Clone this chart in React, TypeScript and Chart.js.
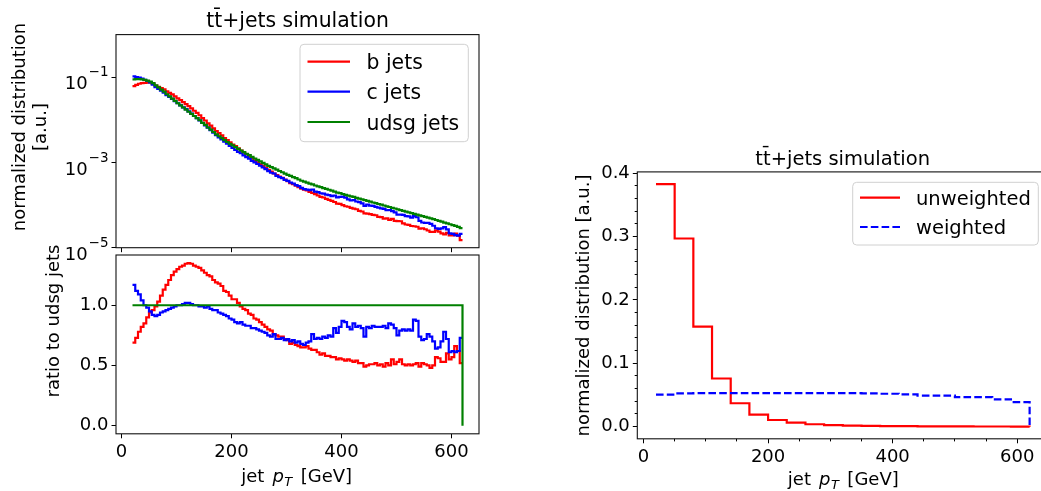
import React, { useEffect, useRef } from 'react';
import { Chart, registerables } from 'chart.js';

Chart.register(...registerables);

const FONT = '"DejaVu Sans", "Liberation Sans", sans-serif';
const RED = '#ff0000';
const BLUE = '#0000ff';
const GREEN = '#008000';
const LINE_WIDTH = 2.2;

// Flavour comparison binning: 5 GeV bins from 20 to 620 GeV
const FINE_LOW = 20;
const FINE_WIDTH = 5;
// Reweighting panel binning: 30 GeV bins from 20 to 620 GeV
const COARSE_LOW = 20;
const COARSE_WIDTH = 30;

// Normalized jet pT distribution of udsg jets (fraction per bin)
const udsgJets = [
  0.0891, 0.0902, 0.0902, 0.0891, 0.0871, 0.0832, 0.0794, 0.0724, 0.0646, 0.0575,
  0.0513, 0.0457, 0.0398, 0.0355, 0.0316, 0.0279, 0.0245, 0.0219, 0.0195, 0.0174,
  0.0155, 0.0138, 0.0123, 0.011, 0.00977, 0.00851, 0.00759, 0.00661, 0.00589, 0.00519,
  0.00457, 0.00412, 0.00372, 0.00335, 0.00302, 0.00275, 0.00251, 0.00229, 0.00209, 0.00191,
  0.00174, 0.0016, 0.00148, 0.00135, 0.00124, 0.00115, 0.00106, 0.000977, 0.000902, 0.000832,
  0.000776, 0.000724, 0.000676, 0.000631, 0.000589, 0.00055, 0.000513, 0.000484, 0.000452, 0.000427,
  0.000398, 0.000372, 0.000355, 0.000335, 0.00032, 0.000305, 0.000288, 0.000275, 0.000263, 0.000251,
  0.00024, 0.000229, 0.000219, 0.000207, 0.000197, 0.000191, 0.000182, 0.000174, 0.000166, 0.00016,
  0.000155, 0.000148, 0.000141, 0.000136, 0.00013, 0.000126, 0.00012, 0.000115, 0.000111, 0.000106,
  0.000102, 9.77e-5, 9.33e-5, 9.02e-5, 8.61e-5, 8.32e-5, 7.94e-5, 7.59e-5, 7.33e-5, 7.0e-5,
  6.76e-5, 6.46e-5, 6.24e-5, 5.96e-5, 5.75e-5, 5.5e-5, 5.31e-5, 5.07e-5, 4.9e-5, 4.68e-5,
  4.47e-5, 4.27e-5, 4.07e-5, 3.89e-5, 3.72e-5, 3.55e-5, 3.39e-5, 3.24e-5, 3.09e-5, 2.88e-5,
];

// b jets relative to udsg jets, per bin
const bOverUdsg = [
  0.69, 0.73, 0.78, 0.82, 0.85, 0.9, 0.94, 0.96, 0.99, 1.03,
  1.08, 1.13, 1.17, 1.21, 1.25, 1.28, 1.3, 1.32, 1.33, 1.345,
  1.35, 1.345, 1.33, 1.32, 1.31, 1.29, 1.27, 1.25, 1.24, 1.21,
  1.19, 1.18, 1.16, 1.12, 1.11, 1.08, 1.05, 1.05, 1.02, 0.99,
  0.97, 0.96, 0.93, 0.92, 0.89, 0.88, 0.86, 0.84, 0.82, 0.8,
  0.79, 0.76, 0.75, 0.74, 0.74, 0.72, 0.71, 0.68, 0.69, 0.67,
  0.66, 0.65, 0.65, 0.66, 0.64, 0.63, 0.63, 0.61, 0.59, 0.6,
  0.58, 0.58, 0.57, 0.57, 0.55, 0.56, 0.55, 0.54, 0.55, 0.54,
  0.53, 0.54, 0.52, 0.52, 0.49, 0.5, 0.51, 0.51, 0.52, 0.5,
  0.51, 0.49, 0.52, 0.5, 0.55, 0.51, 0.53, 0.55, 0.51, 0.5,
  0.51, 0.5, 0.51, 0.52, 0.49, 0.52, 0.51, 0.5, 0.48, 0.5,
  0.57, 0.56, 0.53, 0.53, 0.6, 0.55, 0.57, 0.66, 0.62, 0.52,
];

// c jets relative to udsg jets, per bin
const cOverUdsg = [
  1.17, 1.12, 1.09, 1.04, 1.0, 0.98, 0.95, 0.92, 0.91, 0.92,
  0.94, 0.95, 0.96, 0.97, 0.98, 0.99, 1.0, 1.0, 1.01, 1.02,
  1.02, 1.01, 1.0, 1.0, 0.99, 0.99, 0.98, 0.99, 0.97, 0.96,
  0.96, 0.94, 0.93, 0.92, 0.91, 0.89, 0.88, 0.86, 0.85, 0.86,
  0.84, 0.83, 0.83, 0.81, 0.81, 0.8, 0.79, 0.78, 0.77, 0.75,
  0.74, 0.76, 0.72, 0.72, 0.73, 0.71, 0.72, 0.7, 0.71, 0.69,
  0.7, 0.68, 0.67, 0.69, 0.7, 0.76, 0.72, 0.73, 0.72, 0.74,
  0.73, 0.75, 0.74, 0.81, 0.77, 0.82, 0.87, 0.86, 0.82, 0.8,
  0.85, 0.82, 0.83, 0.81, 0.74, 0.82, 0.81, 0.83, 0.82, 0.82,
  0.82, 0.83, 0.81, 0.85, 0.84, 0.81, 0.75, 0.79, 0.8, 0.79,
  0.8, 0.79, 0.88, 0.87, 0.74, 0.71, 0.72, 0.76, 0.74, 0.7,
  0.64, 0.65, 0.7, 0.78, 0.72, 0.61, 0.62, 0.61, 0.62, 0.73,
];

// Reweighting panel: normalized distributions per 30 GeV bin
const unweightedDist = [
  0.383, 0.297, 0.158, 0.076, 0.037, 0.019, 0.0105, 0.0063, 0.0038, 0.0025,
  0.0018, 0.0013, 0.001, 0.0008, 0.0006, 0.0005, 0.0004, 0.0003, 0.0003, 0.0002,
];
const weightedDist = [
  0.0505, 0.0525, 0.053, 0.053, 0.053, 0.053, 0.053, 0.053, 0.053, 0.053,
  0.0528, 0.0525, 0.052, 0.051, 0.049, 0.049, 0.0465, 0.0465, 0.0432, 0.0388,
];

const PT_TICKS = [0, 200, 400, 600];
const PT_MINOR_TICKS = [50, 100, 150, 250, 300, 350, 450, 500, 550, 650];
const LOG_TICKS = [1e-5, 1e-3, 1e-1];
const LOG_TICK_BASE = '10';
const LOG_TICK_EXPONENTS = ['−5', '−3', '−1'];
const RATIO_TICKS = [0, 0.5, 1.0];
const DIST_TICKS = [0, 0.1, 0.2, 0.3, 0.4];
const DIST_MINOR_TICKS = [
  0.02, 0.04, 0.06, 0.08, 0.12, 0.14, 0.16, 0.18,
  0.22, 0.24, 0.26, 0.28, 0.32, 0.34, 0.36, 0.38,
];

const TITLE = 'tt\u0304+jets simulation';

// b and c distributions follow from the udsg reference and their ratios
const bJets = udsgJets.map((v, i) => v * bOverUdsg[i]);
const cJets = udsgJets.map((v, i) => v * cOverUdsg[i]);
const udsgOverUdsg = udsgJets.map((v) => v / v);

type Pt = { x: number; y: number };
type Box = { left: number; top: number; width: number; height: number };
type Area = { left: number; top: number; right: number; bottom: number };

// Histogram outline: one point per left bin edge, held until the next edge
function stepPoints(low: number, width: number, values: number[], dropTo?: number): Pt[] {
  const pts = values.map((v, i) => ({ x: low + i * width, y: v }));
  const end = low + values.length * width;
  pts.push({ x: end, y: values[values.length - 1] });
  if (dropTo !== undefined) pts.push({ x: end, y: dropTo });
  return pts;
}

// Canvas placement and plot-area placement, in page pixels
const CANVAS_TOP: Box = { left: 0, top: 0, width: 490, height: 262 };
const AREA_TOP: Area = { left: 116, top: 34.6, right: 479, bottom: 247.7 };
const CANVAS_RATIO: Box = { left: 0, top: 200, width: 490, height: 291 };
const AREA_RATIO: Area = { left: 116, top: 255, right: 479, bottom: 433.8 };
const CANVAS_WEIGHT: Box = { left: 560, top: 130, width: 500, height: 361 };
const AREA_WEIGHT: Area = { left: 637.3, top: 171.9, right: 1048.3, bottom: 438.8 };

function geometry(c: Box, a: Area) {
  return {
    padding: { left: 0, top: a.top - c.top, right: c.left + c.width - a.right, bottom: 0 },
    yWidth: a.left - c.left,
    xHeight: c.top + c.height - a.bottom,
  };
}

const tickFont = { family: FONT, size: 18 };
const gridOpts = {
  drawOnChartArea: false,
  drawTicks: true,
  tickLength: 4.5,
  tickColor: '#000',
  tickWidth: 1,
  lineWidth: 1,
};

function ptAxis(showLabels: boolean, height: number) {
  return {
    type: 'linear',
    position: 'bottom',
    min: -10,
    max: 650,
    afterBuildTicks: (s: any) => {
      s.ticks = PT_TICKS.map((v) => ({ value: v }));
    },
    afterFit: (s: any) => {
      s.height = height;
    },
    grid: gridOpts,
    border: { display: false },
    ticks: {
      display: showLabels,
      color: '#000',
      font: tickFont,
      padding: 3,
      maxRotation: 0,
      minRotation: 0,
      autoSkip: false,
      callback: (v: any) => String(v),
    },
  };
}

function valueAxis(
  min: number,
  max: number,
  ticks: number[],
  width: number,
  fmt: (v: number) => string,
  type = 'linear',
  showLabels = true,
) {
  return {
    type,
    position: 'left',
    min,
    max,
    afterBuildTicks: (s: any) => {
      s.ticks = ticks.map((v) => ({ value: v }));
    },
    afterFit: (s: any) => {
      s.width = width;
    },
    grid: gridOpts,
    border: { display: false },
    ticks: {
      display: showLabels,
      color: '#000',
      font: tickFont,
      padding: 3,
      autoSkip: false,
      callback: (v: any) => fmt(Number(v)),
    },
  };
}

function lineSet(label: string, data: Pt[], color: string, order: number, dash: number[] = []) {
  return {
    label,
    data,
    borderColor: color,
    backgroundColor: color,
    borderWidth: LINE_WIDTH,
    borderDash: dash,
    borderJoinStyle: 'miter',
    borderCapStyle: 'butt',
    pointRadius: 0,
    pointHoverRadius: 0,
    stepped: true,
    fill: false,
    tension: 0,
    order,
  };
}

function baseOptions(padding: any) {
  return {
    animation: false,
    responsive: false,
    maintainAspectRatio: false,
    devicePixelRatio: 1,
    events: [],
    layout: { padding },
    plugins: {
      legend: { display: false },
      tooltip: { enabled: false },
      title: { display: false },
    },
  };
}

// ---- drawing helpers (page coordinates) ----

function drawFrame(ctx: CanvasRenderingContext2D, a: any) {
  ctx.save();
  ctx.strokeStyle = '#111';
  ctx.lineWidth = 1.1;
  ctx.strokeRect(a.left, a.top, a.right - a.left, a.bottom - a.top);
  ctx.restore();
}

function drawTitle(ctx: CanvasRenderingContext2D, cx: number, baseline: number, size: number) {
  ctx.font = `${size}px ${FONT}`;
  ctx.fillStyle = '#000';
  ctx.textAlign = 'center';
  ctx.textBaseline = 'alphabetic';
  ctx.fillText(TITLE, cx, baseline);
}

function drawVertical(ctx: CanvasRenderingContext2D, text: string, cx: number, cy: number) {
  ctx.save();
  ctx.translate(cx, cy);
  ctx.rotate(-Math.PI / 2);
  ctx.font = `18px ${FONT}`;
  ctx.fillStyle = '#000';
  ctx.textAlign = 'center';
  ctx.textBaseline = 'middle';
  ctx.fillText(text, 0, 0);
  ctx.restore();
}

function drawPtTitle(ctx: CanvasRenderingContext2D, cx: number, baseline: number) {
  const parts = [
    { text: 'jet', font: `18px ${FONT}`, dy: 0, gap: 8 },
    { text: 'p', font: `italic 18px ${FONT}`, dy: 0, gap: 0.5 },
    { text: 'T', font: `italic 13px ${FONT}`, dy: 4.2, gap: 8.5 },
    { text: '[GeV]', font: `18px ${FONT}`, dy: 0, gap: 0 },
  ];
  ctx.save();
  ctx.fillStyle = '#000';
  ctx.textAlign = 'left';
  ctx.textBaseline = 'alphabetic';
  const widths = parts.map((p) => {
    ctx.font = p.font;
    return ctx.measureText(p.text).width + p.gap;
  });
  let x = cx - widths.reduce((s, w) => s + w, 0) / 2;
  parts.forEach((p, i) => {
    ctx.font = p.font;
    ctx.fillText(p.text, x, baseline + p.dy);
    x += widths[i];
  });
  ctx.restore();
}

// Power-of-ten tick labels with a raised exponent
function drawLogTickLabels(ctx: CanvasRenderingContext2D, chart: any, rightEdge: number) {
  const ys = chart.scales.y;
  ctx.save();
  ctx.fillStyle = '#000';
  ctx.textAlign = 'right';
  ctx.textBaseline = 'alphabetic';
  LOG_TICKS.forEach((v, i) => {
    const py = ys.getPixelForValue(v);
    const base = py + 12.1;
    ctx.font = `13.5px ${FONT}`;
    const expW = ctx.measureText(LOG_TICK_EXPONENTS[i]).width;
    ctx.fillText(LOG_TICK_EXPONENTS[i], rightEdge, base - 13);
    ctx.font = `18px ${FONT}`;
    ctx.fillText(LOG_TICK_BASE, rightEdge - expW - 1, base);
  });
  ctx.restore();
}

type LegendEntry = { label: string; color: string; lineY: number; baseline: number; dash?: number[] };

function drawLegend(
  ctx: CanvasRenderingContext2D,
  box: { x: number; y: number; w: number; h: number },
  x0: number,
  x1: number,
  textX: number,
  size: number,
  entries: LegendEntry[],
) {
  ctx.save();
  ctx.beginPath();
  ctx.roundRect(box.x, box.y, box.w, box.h, 4);
  ctx.fillStyle = 'rgba(255,255,255,0.8)';
  ctx.fill();
  ctx.strokeStyle = '#d0d0d0';
  ctx.lineWidth = 1;
  ctx.stroke();
  entries.forEach((e) => {
    ctx.beginPath();
    ctx.setLineDash(e.dash || []);
    ctx.strokeStyle = e.color;
    ctx.lineWidth = LINE_WIDTH;
    ctx.moveTo(x0, e.lineY);
    ctx.lineTo(x1, e.lineY);
    ctx.stroke();
    ctx.setLineDash([]);
    ctx.font = `${size}px ${FONT}`;
    ctx.fillStyle = '#000';
    ctx.textAlign = 'left';
    ctx.textBaseline = 'alphabetic';
    ctx.fillText(e.label, textX, e.baseline);
  });
  ctx.restore();
}

function pagePlugin(id: string, canvas: Box, draw: (ctx: CanvasRenderingContext2D, chart: any) => void) {
  return {
    id,
    afterDraw(chart: any) {
      const ctx = chart.ctx as CanvasRenderingContext2D;
      drawFrame(ctx, chart.chartArea);
      ctx.save();
      ctx.translate(-canvas.left, -canvas.top);
      draw(ctx, chart);
      ctx.restore();
    },
  };
}

// ---- chart configurations ----

function topConfig(): any {
  const g = geometry(CANVAS_TOP, AREA_TOP);
  return {
    type: 'line',
    data: {
      datasets: [
        lineSet('b jets', stepPoints(FINE_LOW, FINE_WIDTH, bJets), RED, 3),
        lineSet('c jets', stepPoints(FINE_LOW, FINE_WIDTH, cJets), BLUE, 2),
        lineSet('udsg jets', stepPoints(FINE_LOW, FINE_WIDTH, udsgJets), GREEN, 1),
      ],
    },
    options: {
      ...baseOptions(g.padding),
      scales: {
        x: ptAxis(false, g.xHeight),
        y: valueAxis(1e-5, 1, LOG_TICKS, g.yWidth, () => '', 'logarithmic', false),
      },
    },
    plugins: [
      pagePlugin('topDecor', CANVAS_TOP, (ctx, chart) => {
        drawLogTickLabels(ctx, chart, 108.5);
        drawTitle(ctx, 297.5, 26.5, 20.4);
        drawVertical(ctx, 'normalized distribution', 20, 127);
        drawVertical(ctx, '[a.u.]', 41.5, 127);
        drawLegend(ctx, { x: 300, y: 44.3, w: 168.3, h: 97.4 }, 307.5, 350, 366.5, 20.4, [
          { label: 'b jets', color: RED, lineY: 61.7, baseline: 69.3 },
          { label: 'c jets', color: BLUE, lineY: 91.7, baseline: 99.3 },
          { label: 'udsg jets', color: GREEN, lineY: 122, baseline: 129.6 },
        ]);
      }),
    ],
  };
}

function ratioConfig(): any {
  const g = geometry(CANVAS_RATIO, AREA_RATIO);
  return {
    type: 'line',
    data: {
      datasets: [
        lineSet('b jets', stepPoints(FINE_LOW, FINE_WIDTH, bOverUdsg), RED, 3),
        lineSet('c jets', stepPoints(FINE_LOW, FINE_WIDTH, cOverUdsg), BLUE, 2),
        lineSet('udsg jets', stepPoints(FINE_LOW, FINE_WIDTH, udsgOverUdsg, 0), GREEN, 1),
      ],
    },
    options: {
      ...baseOptions(g.padding),
      scales: {
        x: ptAxis(true, g.xHeight),
        y: valueAxis(-0.0675, 1.4175, RATIO_TICKS, g.yWidth, (v) => v.toFixed(1)),
      },
    },
    plugins: [
      pagePlugin('ratioDecor', CANVAS_RATIO, (ctx) => {
        drawVertical(ctx, 'ratio to udsg jets', 54, 321);
        drawPtTitle(ctx, 296.7, 482);
      }),
    ],
  };
}

function weightConfig(): any {
  const g = geometry(CANVAS_WEIGHT, AREA_WEIGHT);
  return {
    type: 'line',
    data: {
      datasets: [
        lineSet('unweighted', stepPoints(COARSE_LOW, COARSE_WIDTH, unweightedDist, 0), RED, 2),
        lineSet('weighted', stepPoints(COARSE_LOW, COARSE_WIDTH, weightedDist, 0), BLUE, 1, [7.6, 3.2]),
      ],
    },
    options: {
      ...baseOptions(g.padding),
      scales: {
        x: ptAxis(true, g.xHeight),
        y: valueAxis(-0.01915, 0.40215, DIST_TICKS, g.yWidth, (v) => v.toFixed(1)),
      },
    },
    plugins: [
      {
        id: 'minorTicks',
        afterDraw(chart: any) {
          const ctx = chart.ctx as CanvasRenderingContext2D;
          const a = chart.chartArea;
          const xs = chart.scales.x;
          const ys = chart.scales.y;
          const align = (p: number) => Math.round(p - 0.5) + 0.5;
          ctx.save();
          ctx.strokeStyle = '#000';
          ctx.lineWidth = 1;
          ctx.beginPath();
          PT_MINOR_TICKS.forEach((v) => {
            const px = align(xs.getPixelForValue(v));
            if (px < a.left || px > a.right) return;
            ctx.moveTo(px, a.bottom);
            ctx.lineTo(px, a.bottom + 2.6);
          });
          DIST_MINOR_TICKS.forEach((v) => {
            const py = align(ys.getPixelForValue(v));
            ctx.moveTo(a.left, py);
            ctx.lineTo(a.left - 2.6, py);
          });
          ctx.stroke();
          ctx.restore();
        },
      },
      pagePlugin('weightDecor', CANVAS_WEIGHT, (ctx) => {
        drawTitle(ctx, 842.7, 165, 19.5);
        drawVertical(ctx, 'normalized distribution [a.u.]', 584, 305.5);
        drawPtTitle(ctx, 843.3, 484.5);
        drawLegend(ctx, { x: 852.7, y: 182.3, w: 185.6, h: 62.7 }, 860, 900, 916, 19.5, [
          { label: 'unweighted', color: RED, lineY: 197.7, baseline: 205 },
          { label: 'weighted', color: BLUE, lineY: 227, baseline: 234.3, dash: [7.6, 3.2] },
        ]);
      }),
    ],
  };
}

function PanelCanvas({ box, build }: { box: Box; build: () => any }) {
  const ref = useRef<HTMLCanvasElement>(null);
  useEffect(() => {
    if (!ref.current) return;
    const chart = new Chart(ref.current, build());
    return () => chart.destroy();
  }, [build]);
  return (
    <canvas
      ref={ref}
      width={box.width}
      height={box.height}
      style={{ position: 'absolute', left: box.left, top: box.top, width: box.width, height: box.height }}
    />
  );
}

export default function App() {
  return (
    <div
      style={{
        position: 'absolute',
        left: 0,
        top: 0,
        width: 1041,
        height: 491,
        overflow: 'hidden',
        background: '#fff',
      }}
    >
      <PanelCanvas box={CANVAS_TOP} build={topConfig} />
      <PanelCanvas box={CANVAS_RATIO} build={ratioConfig} />
      <PanelCanvas box={CANVAS_WEIGHT} build={weightConfig} />
    </div>
  );
}
